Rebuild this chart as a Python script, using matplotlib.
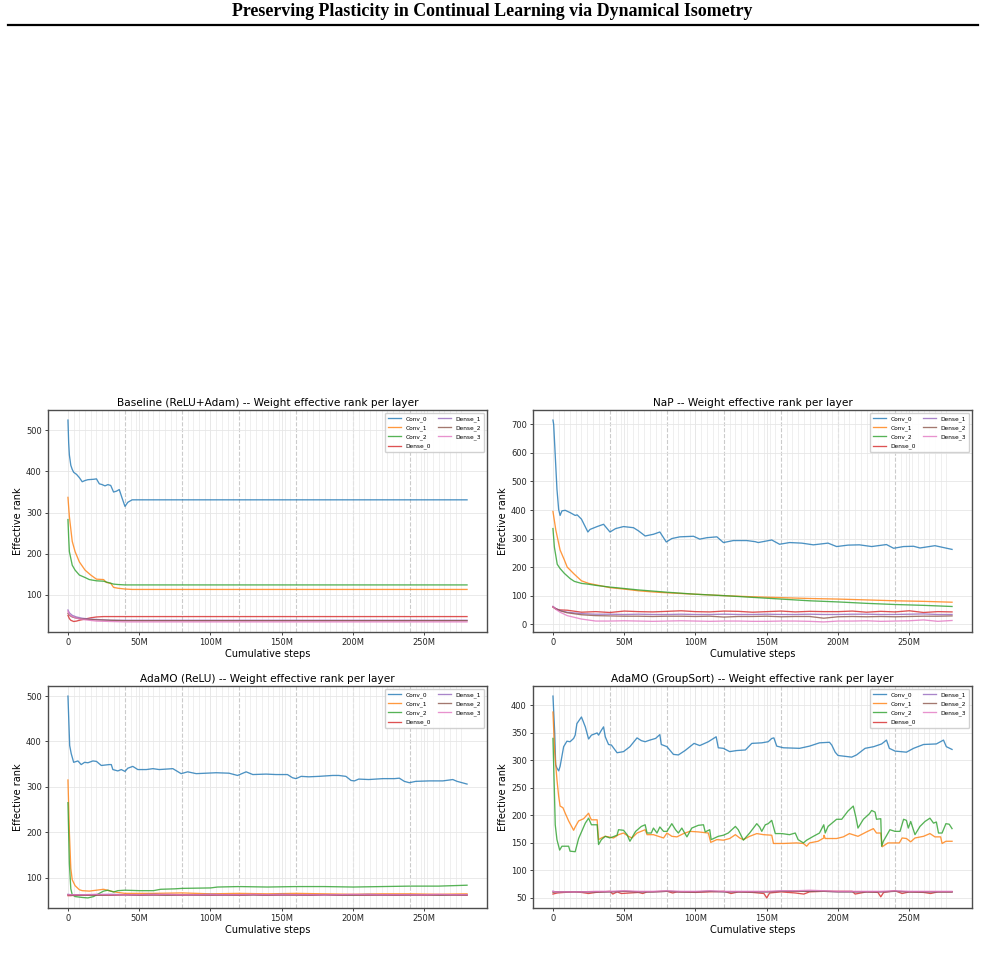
import matplotlib
matplotlib.use("Agg")
import matplotlib.pyplot as plt
from matplotlib.lines import Line2D
from matplotlib.ticker import FuncFormatter

page_title = "Preserving Plasticity in Continual Learning via Dynamical Isometry"
panel_titles = ["Baseline (ReLU+Adam) -- Weight effective rank per layer",
                "NaP -- Weight effective rank per layer",
                "AdaMO (ReLU) -- Weight effective rank per layer",
                "AdaMO (GroupSort) -- Weight effective rank per layer"]
layers = ["Conv_0", "Conv_1", "Conv_2", "Dense_0", "Dense_1", "Dense_2", "Dense_3"]
colors = ["#1f77b4", "#ff7f0e", "#2ca02c", "#d62728", "#9467bd", "#8c564b", "#e377c2"]
task_bounds = [40, 80, 120, 160, 200, 240]   # M steps

# x values are cumulative steps in millions
# ---------------- Baseline ----------------
base_c0_x = [0, 0.5, 1, 2, 3, 4, 6, 8, 10, 12, 14, 18, 20, 22, 24, 26, 28, 30, 32, 34, 36, 38, 40, 42, 45, 280]
base_c0_y = [525, 470, 440, 415, 405, 398, 393, 385, 375, 378, 380, 381, 382, 370, 368, 365, 368, 366, 350, 352, 356, 335, 315, 325, 331, 331]
base_c1_x = [0, 1, 3, 5, 8, 12, 16, 20, 25, 27, 30, 32, 35, 40, 45, 280]
base_c1_y = [337, 290, 230, 205, 180, 160, 148, 138, 137, 130, 128, 118, 116, 114, 113, 113]
base_c2_x = [0, 0.5, 1, 3, 5, 8, 12, 15, 20, 25, 28, 32, 35, 40, 280]
base_c2_y = [283, 240, 205, 172, 160, 148, 142, 137, 134, 133, 130, 126, 125, 124, 124]
base_d0_x = [0, 1, 2, 4, 6, 8, 12, 16, 20, 25, 30, 40, 280]
base_d0_y = [50, 42, 38, 35, 36, 38, 41, 44, 46, 47, 47, 47, 47]
base_dx = [0, 1, 3, 6, 10, 15, 20, 30, 40, 280]
base_d1_y = [63, 56, 50, 46, 43, 41, 40, 38, 38, 38]
base_d2_y = [55, 50, 46, 43, 41, 40, 39, 38, 37, 37]
base_d3_y = [60, 52, 47, 43, 40, 38, 36, 35, 34, 34]

# ---------------- NaP ----------------
nap_c0_x = [0, 0.5, 2.8, 4, 5, 6.3, 8.6, 12, 15.6, 17, 20, 24.5, 26, 31, 35.5, 40, 44, 49.5, 56.5, 60,
            64.7, 70.5, 75, 79.5, 83.4, 89, 98.6, 103, 108, 115, 119.6, 126.6, 136, 142, 144, 153.5, 159,
            166, 174.5, 182.7, 193, 199, 207, 215, 223.6, 234, 239, 246, 253, 257.5, 268, 280]
nap_c0_y = [715, 700, 473, 402, 381, 397, 399, 391, 381, 383, 368, 323, 332, 342, 350, 323, 335, 342, 338, 327,
            309, 315, 323, 288, 300, 306, 308, 298, 303, 306, 286, 293, 293, 289, 286, 295, 280,
            286, 284, 278, 284, 272, 277, 278, 272, 279, 266, 272, 273, 267, 275, 262]
nap_c1_x = [0, 2, 5, 8, 10, 15, 20, 25, 30, 40, 50, 60, 70, 80, 100, 120, 140, 160, 180, 200, 220, 240, 260, 280]
nap_c1_y = [395, 330, 260, 225, 200, 175, 152, 143, 138, 128, 123, 117, 113, 110, 105, 100, 96, 93, 90, 88, 85, 82, 80, 77]
nap_c2_x = [0, 1, 3, 5, 8, 12, 15, 20, 25, 30, 40, 50, 60, 70, 80, 100, 120, 140, 160, 180, 200, 220, 240, 260, 280]
nap_c2_y = [335, 270, 210, 195, 178, 160, 150, 143, 140, 136, 130, 125, 120, 116, 112, 105, 100, 94, 88, 82, 78, 73, 69, 66, 62]
dense_x = [0, 2, 5, 10, 20, 30, 40, 50, 60, 70, 80, 90, 100, 110, 120, 130, 140, 150, 160, 170, 180,
           190, 200, 210, 220, 230, 240, 250, 260, 270, 280]
nap_d0_y = [60, 53, 50, 49, 42, 44, 41, 46, 44, 43, 45, 47, 44, 43, 46, 45, 42, 44, 46, 43, 45,
            44, 44, 46, 42, 45, 43, 47, 41, 44, 43]
nap_d1_y = [62, 55, 48, 42, 37, 35, 35, 34, 35, 34, 34, 35, 34, 34, 35, 34, 34, 35, 34, 34, 35,
            34, 34, 35, 35, 34, 34, 35, 36, 34, 34]
nap_d2_y = [61, 54, 47, 40, 33, 30, 29, 28, 28, 27, 28, 28, 27, 28, 25, 27, 27, 28, 26, 27, 27,
            21, 26, 27, 26, 27, 26, 27, 28, 28, 29]
nap_d3_y = [62, 52, 42, 30, 18, 11, 11, 12, 11, 10, 11, 12, 11, 10, 11, 11, 10, 10, 11, 11, 10,
            8, 11, 11, 12, 10, 11, 12, 15, 10, 13]

# ---------------- AdaMO (ReLU) ----------------
relu_c0_x = [0, 1.2, 2.3, 4, 7, 9.3, 11.7, 14, 17.5, 20, 23.4, 29, 30.4, 31.5, 35, 37.4, 40, 42, 45.5, 49,
             55, 59.6, 64, 73.6, 79.4, 84, 90, 97, 104, 113, 119, 125, 129.7, 139, 146, 154, 157.5, 160,
             163.6, 169, 176, 185.7, 190, 195, 198.6, 201, 204, 211, 221, 229, 232.5, 236, 239.5, 244,
             253.5, 263, 270, 273, 280]
relu_c0_y = [500, 391, 373, 354, 357, 349, 354, 353, 357, 356, 347, 349, 349, 338, 335, 338, 334, 341, 345, 338,
             338, 340, 338, 340, 329, 333, 329, 330, 331, 330, 325, 333, 327, 328, 327, 327, 320, 318,
             323, 322, 323, 325, 325, 323, 314, 313, 317, 316, 318, 318, 319, 312, 309, 312,
             313, 313, 316, 312, 306]
relu_c1_x = [0, 1, 2, 3, 5, 8, 10, 15, 20, 25, 30, 35, 40, 60, 80, 100, 120, 140, 160, 180, 200, 220, 240, 260, 280]
relu_c1_y = [315, 200, 120, 95, 82, 73, 71, 70, 72, 74, 70, 67, 65, 65, 66, 64, 65, 64, 65, 64, 63, 64, 64, 63, 64]
relu_c2_x = [0, 1, 2, 3, 5, 10, 14, 18, 22, 25, 28, 32, 35, 40, 50, 60, 65, 75, 80, 100, 105, 120, 140,
             160, 180, 200, 220, 240, 260, 280]
relu_c2_y = [265, 130, 75, 62, 58, 56, 55, 58, 65, 70, 72, 68, 71, 72, 71, 71, 74, 75, 76, 77, 79, 80, 79,
             80, 80, 79, 80, 81, 81, 83]
relu_d0_y = [60, 60, 61, 61, 62, 61, 62, 61, 62, 62, 61, 62, 61, 62, 61, 62, 61, 62, 62, 61, 62,
             61, 62, 61, 62, 61, 62, 61, 62, 62, 61]
relu_d1_y = [63, 62, 62, 62, 62, 63, 62, 62, 63, 62, 62, 62, 63, 62, 62, 62, 62, 63, 62, 62, 62,
             62, 62, 63, 62, 62, 62, 62, 62, 62, 62]
relu_d2_y = [62, 61, 61, 61, 61, 61, 62, 61, 61, 61, 62, 61, 61, 61, 61, 62, 61, 61, 61, 61, 62,
             61, 61, 61, 61, 61, 61, 62, 61, 61, 61]
relu_d3_y = [62, 62, 62, 62, 63, 62, 62, 62, 62, 63, 62, 62, 62, 62, 62, 63, 62, 62, 62, 62, 62,
             62, 63, 62, 62, 62, 62, 62, 63, 62, 62]

# ---------------- AdaMO (GroupSort) ----------------
gs_c0_x = [0, 1.2, 1.9, 2.8, 4, 5, 7.5, 9.8, 12, 14.5, 15.6, 16.8, 20, 22.7, 25, 27, 31, 32, 34, 35.5,
           36.7, 39, 41, 45, 49.5, 54, 59, 62, 64.7, 68, 72, 75, 76, 80, 84.5, 88, 92.7, 99, 103, 109,
           114.5, 116, 119.6, 124, 129, 135, 139.5, 146.5, 151, 153.5, 155, 157, 161.7, 173, 180, 187,
           194, 195.6, 198, 200, 209.6, 213, 219, 225, 230.6, 234, 236, 240, 248, 253, 260, 269, 274, 276, 280]
gs_c0_y = [417, 352, 292, 286, 281, 289, 325, 335, 334, 340, 346, 367, 379, 361, 339, 346, 350, 346, 355, 361,
           343, 329, 328, 314, 316, 325, 341, 336, 334, 337, 340, 347, 329, 325, 311, 310, 318, 331, 327, 334,
           343, 323, 322, 316, 318, 319, 331, 332, 334, 340, 341, 326, 323, 322, 326, 332,
           333, 328, 315, 309, 306, 310, 322, 325, 330, 337, 322, 317, 315, 322, 329, 330, 337, 325, 320]
gs_c1_x = [0, 1.2, 2.8, 4, 5, 7, 8.6, 11, 14.5, 15.6, 18, 21.5, 25, 26, 27, 31, 32, 34, 36.7, 39,
           42.5, 46, 49.5, 53, 55.4, 59, 64.7, 66, 70.5, 74, 77.6, 80, 83.4, 87, 91.6, 96, 102, 109, 110.7, 115,
           119.6, 124, 128, 131, 133.6, 138, 143, 147.7, 153.5, 154.7, 161.7, 171, 175.7, 178, 180,
           186, 190, 190.2, 191, 199, 203.7, 208, 214, 220, 224.8, 227, 230, 231, 235, 243,
           245, 248, 251, 254, 260, 264.5, 268, 272, 273, 275.7, 280]
gs_c1_y = [388, 316, 265, 235, 217, 214, 204, 190, 173, 179, 190, 194, 204, 197, 192, 192, 156, 159, 162, 161,
           159, 165, 168, 162, 159, 168, 174, 165, 165, 162, 159, 168, 162, 161, 167, 171, 170, 168, 151, 156,
           155, 158, 165, 159, 156, 162, 167, 165, 164, 149, 149, 150, 149, 144, 150,
           153, 159, 164, 158, 158, 161, 167, 162, 170, 176, 168, 168, 143, 150, 150,
           159, 158, 152, 159, 162, 167, 161, 161, 149, 153, 153]
gs_c2_x = [0, 1, 1.6, 2.8, 4.7, 6.3, 11, 12, 15.6, 18, 22.7, 25, 27, 31, 32, 34, 36.7, 40, 45, 46,
           49.5, 52, 54, 58, 62, 64.7, 66, 69, 70.5, 73, 75, 77.6, 80, 83.4, 86, 88, 90.4, 94, 97.4, 102,
           105.6, 106.8, 110, 111, 116, 119.6, 123, 128, 130, 133.6, 138, 143, 145, 146.5, 149,
           151, 153.5, 156, 160.5, 166, 170, 172, 175.7, 178, 182.7, 187, 190, 191, 193, 199,
           202.6, 207, 210.7, 212.6, 214, 217.8, 222, 223.6, 226, 227, 230, 230.6, 231.8, 236.4, 240,
           243.5, 246, 248, 249.3, 251, 254, 257.5, 261, 264.5, 267, 269, 270.5, 273, 275.7, 278, 280]
gs_c2_y = [340, 244, 183, 156, 137, 144, 144, 135, 134, 158, 186, 195, 183, 183, 147, 156, 162, 159, 164, 174,
           173, 165, 153, 171, 180, 183, 168, 168, 177, 168, 179, 171, 171, 185, 174, 168, 177, 161, 177, 182,
           183, 170, 174, 156, 162, 164, 168, 180, 174, 155, 168, 185, 179, 171, 183,
           185, 191, 167, 167, 165, 168, 156, 150, 155, 162, 168, 183, 168, 180, 193,
           193, 208, 217, 196, 177, 193, 203, 209, 206, 193, 194, 144, 153, 174, 171,
           171, 193, 191, 177, 189, 165, 180, 189, 195, 186, 188, 168, 168, 185, 184, 176]
gs_d0_x = [0, 3, 8, 15, 20, 25, 30, 40, 42, 45, 48, 60, 63, 66, 80, 84, 87, 100, 110, 120, 125, 130, 140,
           148, 150, 152, 160, 170, 176, 180, 190, 200, 210, 212, 220, 228, 230, 232, 240, 245, 250, 260,
           265, 270, 280]
gs_d0_y = [57, 59, 60, 61, 60, 58, 60, 62, 57, 61, 58, 60, 58, 61, 62, 59, 61, 60, 61, 62, 58, 61, 60,
           58, 50, 59, 61, 59, 57, 61, 62, 62, 62, 57, 61, 60, 52, 60, 63, 58, 61, 60,
           58, 61, 61]
gs_d1_y = [62, 61, 61, 61, 61, 61, 61, 62, 61, 61, 62, 61, 61, 62, 61, 61, 61, 61, 62, 62, 62,
           62, 61, 61, 61, 61, 62, 61, 61, 61, 61]
gs_d2_y = [60, 61, 61, 61, 61, 61, 61, 62, 61, 61, 62, 61, 61, 62, 61, 61, 61, 61, 62, 62, 62,
           62, 61, 61, 61, 61, 62, 61, 61, 61, 61]
gs_d3_y = [62, 61, 61, 61, 61, 62, 62, 63, 62, 62, 63, 62, 62, 63, 62, 62, 62, 62, 63, 63, 64,
           63, 62, 62, 62, 62, 63, 62, 62, 62, 62]

panels = [
    [(base_c0_x, base_c0_y), (base_c1_x, base_c1_y), (base_c2_x, base_c2_y), (base_d0_x, base_d0_y),
     (base_dx, base_d1_y), (base_dx, base_d2_y), (base_dx, base_d3_y)],
    [(nap_c0_x, nap_c0_y), (nap_c1_x, nap_c1_y), (nap_c2_x, nap_c2_y), (dense_x, nap_d0_y),
     (dense_x, nap_d1_y), (dense_x, nap_d2_y), (dense_x, nap_d3_y)],
    [(relu_c0_x, relu_c0_y), (relu_c1_x, relu_c1_y), (relu_c2_x, relu_c2_y), (dense_x, relu_d0_y),
     (dense_x, relu_d1_y), (dense_x, relu_d2_y), (dense_x, relu_d3_y)],
    [(gs_c0_x, gs_c0_y), (gs_c1_x, gs_c1_y), (gs_c2_x, gs_c2_y), (gs_d0_x, gs_d0_y),
     (dense_x, gs_d1_y), (dense_x, gs_d2_y), (dense_x, gs_d3_y)],
]

fig = plt.figure(figsize=(9.85, 9.58), dpi=100)
fig.text(0.5, 1 - 12 / 958, page_title, ha="center", va="center",
         family="Liberation Serif", weight="bold", fontsize=12.9)
fig.add_artist(Line2D([8 / 985, 978 / 985], [1 - 25 / 958, 1 - 25 / 958], color="black", lw=1.6))

positions = [[48, 410], [533, 410], [48, 686], [533, 686]]
fmt = FuncFormatter(lambda v, p: "0" if v == 0 else "%dM" % v)

for i, series in enumerate(panels):
    px, py = positions[i]
    ax = fig.add_axes([px / 985, 1 - (py + 222) / 958, 439 / 985, 222 / 958])
    for s in range(4, 281, 4):
        if s % 40:
            ax.axvline(s, color="0.88", lw=0.5, alpha=0.7, zorder=0)
    for b in task_bounds:
        ax.axvline(b, color="0.75", lw=0.8, ls="--", alpha=0.8, zorder=0)
    for (xs, ys), name, c in zip(series, layers, colors):
        ax.plot(xs, ys, color=c, lw=0.95, alpha=0.8, label=name)
    ax.grid(True, color="0.9", lw=0.6)
    ax.set_axisbelow(True)
    ax.xaxis.set_major_formatter(fmt)
    ax.tick_params(labelsize=6, length=2.5, width=0.6, pad=2, colors="0.15")
    for sp in ax.spines.values():
        sp.set_color("0.3")
        sp.set_linewidth(1.0)
    ax.set_title(panel_titles[i], fontsize=7.6, pad=3)
    ax.set_xlabel("Cumulative steps", fontsize=7, labelpad=1)
    ax.set_ylabel("Effective rank", fontsize=7, labelpad=2)
    ax.legend(loc="upper right", ncol=2, fontsize=4.2, handlelength=2.2, borderpad=0.5,
              labelspacing=0.6, columnspacing=1.2, framealpha=0.9)

fig.savefig("out.png", dpi=100)
